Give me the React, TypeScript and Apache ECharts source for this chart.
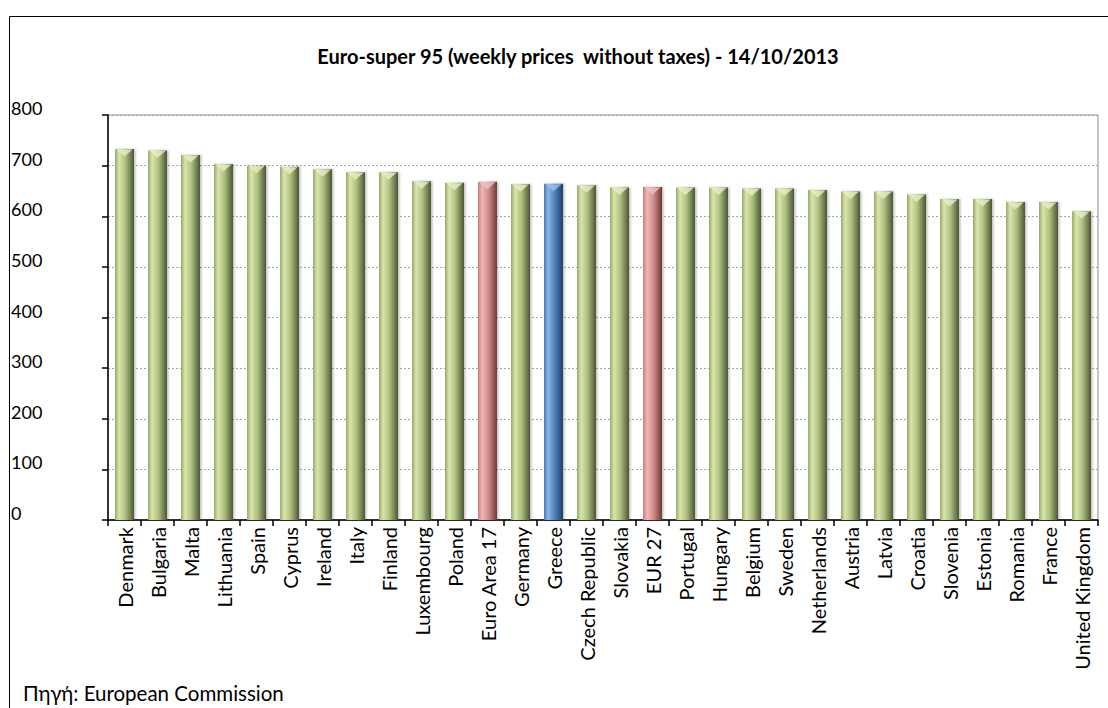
import React, { useEffect, useRef } from "react";
import * as echarts from "echarts";

const countries = [
  "Denmark", "Bulgaria", "Malta", "Lithuania", "Spain", "Cyprus", "Ireland", "Italy", "Finland",
  "Luxembourg", "Poland", "Euro Area 17", "Germany", "Greece", "Czech Republic", "Slovakia", "EUR 27",
  "Portugal", "Hungary", "Belgium", "Sweden", "Netherlands", "Austria", "Latvia", "Croatia",
  "Slovenia", "Estonia", "Romania", "France", "United Kingdom",
];
const prices = [
  733, 730, 721, 703, 700, 698, 693, 687, 687, 669, 666, 668, 663, 664, 661, 657, 658,
  657, 657, 655, 655, 652, 649, 649, 643, 634, 634, 628, 628, 610,
];
const highlightRed = ["Euro Area 17", "EUR 27"];
const highlightBlue = ["Greece"];
const yTicks = [0, 800, 100];

const titleText = "Euro-super 95 (weekly prices  without taxes) - 14/10/2013";
const sourceText = "Πηγή: European Commission";

const FONT = "Lato, 'Open Sans', sans-serif";

function cyl(light: string, mid: string, edge: string, dark: string) {
  return new echarts.graphic.LinearGradient(0, 0, 1, 0, [
    { offset: 0, color: edge },
    { offset: 0.22, color: light },
    { offset: 0.55, color: mid },
    { offset: 1, color: dark },
  ]);
}

export default function App() {
  const ref = useRef<HTMLDivElement>(null);
  useEffect(() => {
    if (!ref.current) return;
    const chart = echarts.init(ref.current, undefined, { renderer: "svg" });
    const green = cyl("#d9e6ab", "#aebf80", "#98a96c", "#4b5733");
    const red = cyl("#efb7b5", "#d08d8b", "#bf8180", "#6e3836");
    const blue = cyl("#8fb6e6", "#4f81bd", "#4a79b3", "#223f66");
    const colorFor = (c: string) =>
      highlightRed.includes(c) ? red : highlightBlue.includes(c) ? blue : green;
    const capFor = (c: string) =>
      highlightRed.includes(c) ? "#f2c3c2" : highlightBlue.includes(c) ? "#9fc2ec" : "#e6efc4";

    chart.setOption({
      animation: false,
      backgroundColor: "#ffffff",
      textStyle: { fontFamily: FONT },
      grid: {
        left: 108,
        right: 10,
        top: 115,
        bottom: 188,
        show: true,
        borderColor: "#8c8c8c",
        borderWidth: 1,
        backgroundColor: "transparent",
      },
      graphic: [
        {
          type: "polyline",
          shape: { points: [[9.5, 710], [9.5, 16.5], [1110, 16.5]] },
          style: { stroke: "#000", lineWidth: 1, fill: "none" },
          silent: true,
        },
        {
          type: "text",
          x: 578,
          y: 56,
          style: {
            text: titleText,
            fontFamily: FONT,
            fontWeight: "bold",
            fontSize: 20,
            fill: "#000",
            align: "center",
            verticalAlign: "middle",
          },
        },
        {
          type: "text",
          x: 23,
          y: 693,
          style: {
            text: sourceText,
            fontFamily: FONT,
            fontSize: 20.5,
            fill: "#000",
            align: "left",
            verticalAlign: "middle",
          },
        },
      ],
      xAxis: {
        type: "category",
        data: countries,
        boundaryGap: true,
        axisLine: { show: true, lineStyle: { color: "#000", width: 1.5 } },
        axisTick: { show: true, alignWithLabel: false, length: 6, lineStyle: { color: "#000", width: 1.5 } },
        axisLabel: {
          rotate: 90,
          interval: 0,
          margin: 7,
          fontSize: 20,
          fontFamily: FONT,
          color: "#000",
        },
        splitLine: { show: false },
      },
      yAxis: {
        type: "value",
        min: yTicks[0],
        max: yTicks[1],
        interval: yTicks[2],
        axisLine: { show: true, lineStyle: { color: "#000", width: 1.5 } },
        axisTick: { show: true, length: 6, lineStyle: { color: "#000", width: 1.5 } },
        axisLabel: {
          align: "left",
          verticalAlign: "bottom",
          lineHeight: 14,
          margin: 97,
          fontSize: 18,
          fontFamily: FONT,
          color: "#000",
        },
        splitLine: { show: true, lineStyle: { color: "#a6a6a6", type: [2, 2], width: 1 } },
      },
      series: [
        {
          type: "bar",
          barWidth: 19,
          data: prices.map((v, i) => ({
            value: v,
            itemStyle: {
              color: colorFor(countries[i]),
              shadowColor: "rgba(0,0,0,0.25)",
              shadowBlur: 2,
              shadowOffsetX: 1.5,
              shadowOffsetY: 0,
            },
          })),
          z: 2,
        },
        {
          type: "scatter",
          symbol: "triangle",
          symbolRotate: 180,
          symbolSize: [16, 7],
          symbolOffset: [0, 4],
          silent: true,
          data: prices.map((v, i) => ({
            value: v,
            itemStyle: { color: capFor(countries[i]) },
          })),
          z: 3,
        },
      ],
    });
    return () => chart.dispose();
  }, []);
  return (
    <div
      ref={ref}
      style={{ position: "fixed", left: 0, top: 0, width: 1108, height: 708, background: "#fff" }}
    />
  );
}
